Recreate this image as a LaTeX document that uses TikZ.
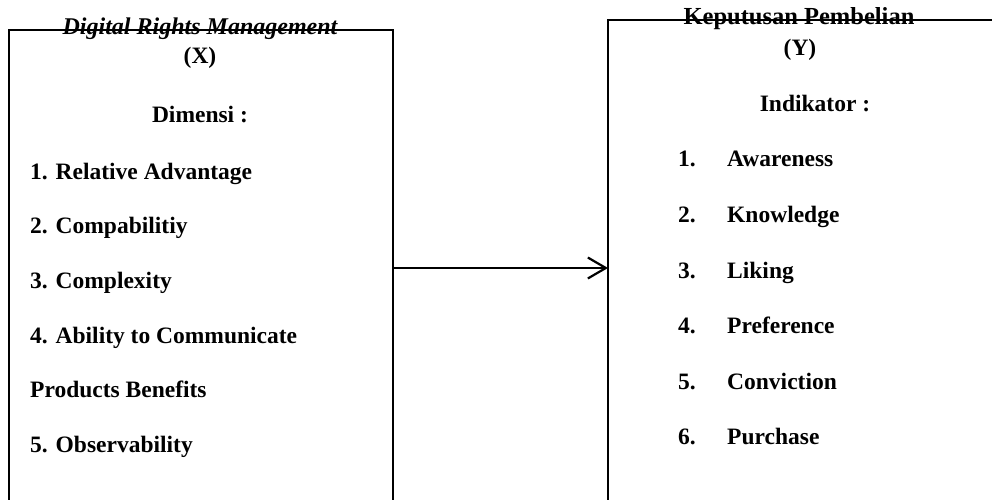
\documentclass[tikz,border=0pt]{standalone}
\usepackage{fontspec}
\setmainfont{Liberation Serif}
\usetikzlibrary{arrows.meta}
\begin{document}
\begin{tikzpicture}[x=1pt,y=-1pt,
  txt/.style={font=\fontsize{23.5}{23.5}\selectfont\bfseries, inner sep=0pt},
  ttl/.style={font=\fontsize{24}{24}\selectfont\bfseries\itshape, inner sep=0pt},
  ttr/.style={font=\fontsize{24.5}{24.5}\selectfont\bfseries, inner sep=0pt},
  boxline/.style={line width=2.2pt},
  conn/.style={line width=2.2pt, -{Straight Barb[length=18pt,width=21pt,line width=2.2pt]}}]
\useasboundingbox (0,0) rectangle (992,500);
% boxes
\draw[boxline] (9,505) -- (9,30) -- (393,30) -- (393,505);
\draw[boxline] (608,505) -- (608,20) -- (1000,20);
\coordinate (lb) at (393,268);
\coordinate (rb) at (608,268);
\draw[conn] (lb) -- (rb);
% left texts
\node[ttl, anchor=base] (tx) at (200,35) {Digital Rights Management};
\node[txt, anchor=base] (x) at (200,64) {(X)};
\node[txt, anchor=base] (dim) at (200,122) {Dimensi :};
\node[txt, anchor=base west] (l1) at (30,179) {1. Relative Advantage};
\node[txt, anchor=base west] (l2) at (30,233) {2. Compabilitiy};
\node[txt, anchor=base west] (l3) at (30,288) {3. Complexity};
\node[txt, anchor=base west] (l4) at (30,343) {4. Ability to Communicate};
\node[txt, anchor=base west] (l5) at (30,397) {Products Benefits};
\node[txt, anchor=base west] (l6) at (30,452) {5. Observability};
% right texts
\node[ttr, anchor=base] (ty) at (799,25) {Keputusan Pembelian};
\node[txt, anchor=base] (y) at (800,56) {(Y)};
\node[txt, anchor=base] (ind) at (815,112) {Indikator :};
\foreach \n/\w/\yy in {1/Awareness/166, 2/Knowledge/222, 3/Liking/278, 4/Preference/333, 5/Conviction/389, 6/Purchase/444}{
  \node[txt, anchor=base west] (rn\n) at (678,\yy) {\n.};
  \node[txt, anchor=base west] (rw\n) at (727,\yy) {\w};
}
\end{tikzpicture}
\end{document}
